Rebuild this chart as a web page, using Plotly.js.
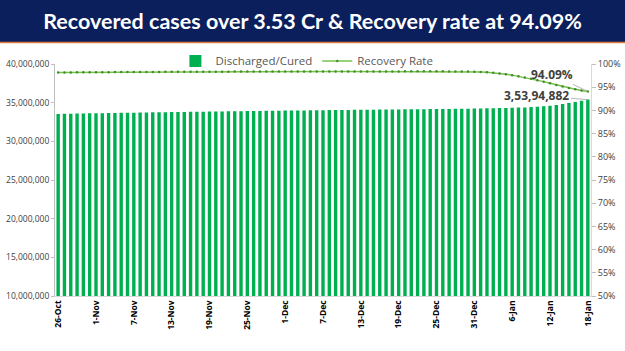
<!DOCTYPE html>
<html>
<head>
<meta charset="utf-8">
<script src="https://cdn.plot.ly/plotly-3.0.1.min.js"></script>
<style>html,body{margin:0;padding:0;background:#fff;}#chart{width:625px;height:351px;}</style>
</head>
<body>
<div id="chart"></div>
<script>
const dates = [
 "26-Oct","27-Oct","28-Oct","29-Oct","30-Oct","31-Oct",
 "1-Nov","2-Nov","3-Nov","4-Nov","5-Nov","6-Nov","7-Nov","8-Nov","9-Nov","10-Nov",
 "11-Nov","12-Nov","13-Nov","14-Nov","15-Nov","16-Nov","17-Nov","18-Nov","19-Nov","20-Nov",
 "21-Nov","22-Nov","23-Nov","24-Nov","25-Nov","26-Nov","27-Nov","28-Nov","29-Nov","30-Nov",
 "1-Dec","2-Dec","3-Dec","4-Dec","5-Dec","6-Dec","7-Dec","8-Dec","9-Dec","10-Dec",
 "11-Dec","12-Dec","13-Dec","14-Dec","15-Dec","16-Dec","17-Dec","18-Dec","19-Dec","20-Dec",
 "21-Dec","22-Dec","23-Dec","24-Dec","25-Dec","26-Dec","27-Dec","28-Dec","29-Dec","30-Dec","31-Dec",
 "1-Jan","2-Jan","3-Jan","4-Jan","5-Jan","6-Jan","7-Jan","8-Jan","9-Jan","10-Jan",
 "11-Jan","12-Jan","13-Jan","14-Jan","15-Jan","16-Jan","17-Jan","18-Jan"
];
const discharged = [
 33548605,33563421,33578000,33592000,33606000,33620000,
 33634000,33647000,33660000,33673000,33686000,33698000,33710000,33722000,33734000,33746000,
 33758000,33770000,33782000,33794000,33805000,33816000,33827000,33838000,33849000,33860000,
 33871000,33882000,33893000,33904000,33914000,33924000,33934000,33944000,33954000,33964000,
 33974000,33983000,33992000,34001000,34010000,34019000,34028000,34037000,34046000,34055000,
 34063000,34071000,34079000,34087000,34095000,34103000,34111000,34119000,34127000,34135000,
 34143000,34151000,34159000,34167000,34175000,34183000,34191000,34199000,34207000,34222000,34251292,
 34260000,34270000,34281000,34295000,34315000,34335000,34360000,34390000,34430000,34478000,
 34538000,34609000,34696000,34820000,34947000,35085000,35237000,35394882
];
const recoveryRate = [
 98.18,98.19,98.19,98.20,98.20,98.20,
 98.20,98.23,98.24,98.25,98.26,98.27,98.28,98.28,98.29,98.30,
 98.30,98.31,98.32,98.33,98.33,98.33,98.33,98.33,98.34,98.35,
 98.35,98.35,98.37,98.38,98.38,98.39,98.40,98.40,98.40,98.40,
 98.40,98.40,98.40,98.40,98.40,98.40,98.40,98.40,98.40,98.40,
 98.40,98.40,98.40,98.40,98.40,98.41,98.41,98.41,98.41,98.42,
 98.42,98.42,98.42,98.42,98.42,98.42,98.41,98.40,98.40,98.38,98.35,
 98.30,98.20,98.10,97.95,97.80,97.60,97.35,97.10,96.80,96.50,
 96.20,95.85,95.50,95.15,94.85,94.55,94.30,94.09
];
const xTickLabels = ["26-Oct","1-Nov","7-Nov","13-Nov","19-Nov","25-Nov","1-Dec","7-Dec","13-Dec","19-Dec","25-Dec","31-Dec","6-Jan","12-Jan","18-Jan"];
const leftTicks = [10000000,15000000,20000000,25000000,30000000,35000000,40000000];
const rightTicks = [50,55,60,65,70,75,80,85,90,95,100];
const rightTickText = ["50%","55%","60%","65%","70%","75%","80%","85%","90%","95%","100%"];
const titleText = "Recovered cases over 3.53 Cr & Recovery rate at 94.09%";
const lastDischargedLabel = "3,53,94,882";
const lastRateLabel = "94.09%";

const n = dates.length;
const traces = [
  {
    type: "bar", name: "Discharged/Cured", x: dates, y: discharged,
    marker: {color: "#00b050"}, yaxis: "y"
  },
  {
    type: "scatter", mode: "lines+markers", name: "Recovery Rate", x: dates, y: recoveryRate,
    yaxis: "y2", line: {color: "#78c04a", width: 1.5},
    marker: {color: "#3f8f2a", size: 2.5}
  }
];

const layout = {
  width: 625, height: 351,
  margin: {l: 55, r: 34, t: 64, b: 55},
  paper_bgcolor: "#ffffff", plot_bgcolor: "#ffffff",
  bargap: 0.46,
  showlegend: true,
  legend: {orientation: "h", x: 0.47, xanchor: "center", y: 1.013, yanchor: "middle",
           bgcolor: "rgba(0,0,0,0)", font: {family: "Open Sans, sans-serif", size: 11.5, color: "#595959"}},
  title: {text: titleText, x: 0.5, xanchor: "center", xref: "container", y: 1 - 21/351, yref: "container", yanchor: "middle",
          font: {family: "Lato, sans-serif", size: 21.5, color: "#ffffff", weight: 700}},
  xaxis: {
    type: "category", tickmode: "array", tickvals: xTickLabels, ticktext: xTickLabels,
    tickangle: -90, tickfont: {family: "Open Sans, sans-serif", size: 8.5, color: "#000000", weight: 700},
    showgrid: false, showline: true, linecolor: "#d9d9d9", linewidth: 1, ticks: "",
    range: [-0.5, n - 0.5]
  },
  yaxis: {
    range: [10000000, 40000000], tickvals: leftTicks, tickformat: ",d",
    tickfont: {family: "Open Sans, sans-serif", size: 8.5, color: "#404040"},
    showgrid: false, showline: true, linecolor: "#bfbfbf", linewidth: 1,
    ticks: "outside", ticklen: 3, tickcolor: "#bfbfbf", zeroline: false
  },
  yaxis2: {
    overlaying: "y", side: "right", range: [50, 100], tickmode: "array", tickvals: rightTicks, ticktext: rightTickText,
    tickfont: {family: "Open Sans, sans-serif", size: 9, color: "#404040"},
    showgrid: false, showline: true, linecolor: "#d9d9d9", linewidth: 1,
    ticks: "outside", ticklen: 4, tickcolor: "#bfbfbf", zeroline: false
  },
  shapes: [
    {type: "rect", xref: "paper", yref: "paper", x0: -0.11, x1: 1.07, y0: (296-42)/232, y1: 1.3,
     fillcolor: "#0b1f5c", line: {width: 0}, layer: "below"},
    {type: "line", xref: "paper", yref: "paper", x0: -0.11, x1: 1.07, y0: (296-42.5)/232, y1: (296-42.5)/232,
     line: {color: "#e07a3c", width: 1.5}}
  ],
  annotations: [
    {x: dates[n-1], y: recoveryRate[n-1], xref: "x", yref: "y2", text: "<b>" + lastRateLabel + "</b>",
     showarrow: true, arrowhead: 0, arrowwidth: 0.8, arrowcolor: "#a6a6a6", ax: -36, ay: -17,
     font: {family: "Open Sans, sans-serif", size: 12, color: "#404040"}},
    {x: dates[n-1], y: discharged[n-1], xref: "x", yref: "y", text: "<b>" + lastDischargedLabel + "</b>",
     showarrow: true, arrowhead: 0, arrowwidth: 0.8, arrowcolor: "#a6a6a6", ax: -51, ay: -4,
     font: {family: "Open Sans, sans-serif", size: 12, color: "#404040"}}
  ]
};

Plotly.newPlot("chart", traces, layout, {displayModeBar: false, staticPlot: true});
</script>
</body>
</html>
